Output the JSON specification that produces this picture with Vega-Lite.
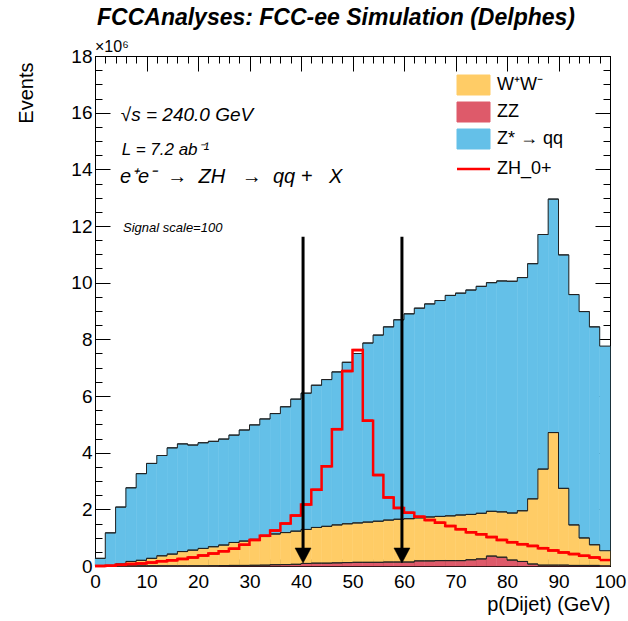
{
  "$schema": "https://vega.github.io/schema/vega-lite/v6.json",
  "width": 515,
  "height": 510,
  "autosize": {"type": "none"},
  "padding": {"left": 95, "top": 56, "right": 18, "bottom": 55},
  "background": "white",
  "config": {
    "view": {"stroke": "black", "strokeWidth": 1},
    "font": "Liberation Sans",
    "axis": {"grid": false, "domain": false, "tickColor": "black", "tickWidth": 1, "labelColor": "black", "titleColor": "black", "labelFont": "Liberation Sans", "titleFont": "Liberation Sans"}
  },
  "title": {
    "text": "FCCAnalyses: FCC-ee Simulation (Delphes)",
    "anchor": "start",
    "frame": "group",
    "dx": 2,
    "offset": -9,
    "baseline": "alphabetic",
    "font": "Liberation Sans",
    "fontSize": 23,
    "fontStyle": "italic",
    "fontWeight": "bold",
    "color": "black"
  },
  "data": {
    "values": [
      {"lo": 0, "hi": 2, "ZZ": 0.005, "WW": 0.005, "Zqq": 0.26, "sig": 0.0},
      {"lo": 2, "hi": 4, "ZZ": 0.005, "WW": 0.015, "Zqq": 1.15, "sig": 0.01},
      {"lo": 4, "hi": 6, "ZZ": 0.005, "WW": 0.065, "Zqq": 2.01, "sig": 0.04},
      {"lo": 6, "hi": 8, "ZZ": 0.005, "WW": 0.155, "Zqq": 2.60, "sig": 0.07},
      {"lo": 8, "hi": 10, "ZZ": 0.005, "WW": 0.195, "Zqq": 3.06, "sig": 0.09},
      {"lo": 10, "hi": 12, "ZZ": 0.005, "WW": 0.265, "Zqq": 3.35, "sig": 0.12},
      {"lo": 12, "hi": 14, "ZZ": 0.005, "WW": 0.355, "Zqq": 3.54, "sig": 0.17},
      {"lo": 14, "hi": 16, "ZZ": 0.005, "WW": 0.415, "Zqq": 3.75, "sig": 0.20},
      {"lo": 16, "hi": 18, "ZZ": 0.005, "WW": 0.505, "Zqq": 3.80, "sig": 0.25},
      {"lo": 18, "hi": 20, "ZZ": 0.005, "WW": 0.555, "Zqq": 3.71, "sig": 0.30},
      {"lo": 20, "hi": 22, "ZZ": 0.005, "WW": 0.615, "Zqq": 3.73, "sig": 0.37},
      {"lo": 22, "hi": 24, "ZZ": 0.008, "WW": 0.672, "Zqq": 3.72, "sig": 0.44},
      {"lo": 24, "hi": 26, "ZZ": 0.015, "WW": 0.725, "Zqq": 3.74, "sig": 0.52},
      {"lo": 26, "hi": 28, "ZZ": 0.02, "WW": 0.81, "Zqq": 3.79, "sig": 0.61},
      {"lo": 28, "hi": 30, "ZZ": 0.02, "WW": 0.86, "Zqq": 3.92, "sig": 0.75},
      {"lo": 30, "hi": 32, "ZZ": 0.025, "WW": 0.915, "Zqq": 4.04, "sig": 0.92},
      {"lo": 32, "hi": 34, "ZZ": 0.03, "WW": 1.01, "Zqq": 4.15, "sig": 1.07},
      {"lo": 34, "hi": 36, "ZZ": 0.045, "WW": 1.085, "Zqq": 4.25, "sig": 1.25},
      {"lo": 36, "hi": 38, "ZZ": 0.05, "WW": 1.13, "Zqq": 4.44, "sig": 1.50},
      {"lo": 38, "hi": 40, "ZZ": 0.06, "WW": 1.17, "Zqq": 4.66, "sig": 1.78},
      {"lo": 40, "hi": 42, "ZZ": 0.09, "WW": 1.20, "Zqq": 4.81, "sig": 2.17},
      {"lo": 42, "hi": 44, "ZZ": 0.10, "WW": 1.26, "Zqq": 5.02, "sig": 2.69},
      {"lo": 44, "hi": 46, "ZZ": 0.10, "WW": 1.30, "Zqq": 5.18, "sig": 3.52},
      {"lo": 46, "hi": 48, "ZZ": 0.11, "WW": 1.34, "Zqq": 5.40, "sig": 4.83},
      {"lo": 48, "hi": 50, "ZZ": 0.12, "WW": 1.37, "Zqq": 5.70, "sig": 6.88},
      {"lo": 50, "hi": 52, "ZZ": 0.13, "WW": 1.39, "Zqq": 5.98, "sig": 7.62},
      {"lo": 52, "hi": 54, "ZZ": 0.13, "WW": 1.42, "Zqq": 6.32, "sig": 5.13},
      {"lo": 54, "hi": 56, "ZZ": 0.13, "WW": 1.45, "Zqq": 6.57, "sig": 3.21},
      {"lo": 56, "hi": 58, "ZZ": 0.14, "WW": 1.48, "Zqq": 6.82, "sig": 2.42},
      {"lo": 58, "hi": 60, "ZZ": 0.14, "WW": 1.51, "Zqq": 7.04, "sig": 2.05},
      {"lo": 60, "hi": 62, "ZZ": 0.14, "WW": 1.53, "Zqq": 7.23, "sig": 1.88},
      {"lo": 62, "hi": 64, "ZZ": 0.18, "WW": 1.52, "Zqq": 7.40, "sig": 1.74},
      {"lo": 64, "hi": 66, "ZZ": 0.18, "WW": 1.55, "Zqq": 7.52, "sig": 1.62},
      {"lo": 66, "hi": 68, "ZZ": 0.19, "WW": 1.56, "Zqq": 7.62, "sig": 1.53},
      {"lo": 68, "hi": 70, "ZZ": 0.19, "WW": 1.58, "Zqq": 7.78, "sig": 1.41},
      {"lo": 70, "hi": 72, "ZZ": 0.19, "WW": 1.61, "Zqq": 7.83, "sig": 1.30},
      {"lo": 72, "hi": 74, "ZZ": 0.22, "WW": 1.60, "Zqq": 7.92, "sig": 1.19},
      {"lo": 74, "hi": 76, "ZZ": 0.25, "WW": 1.61, "Zqq": 8.01, "sig": 1.12},
      {"lo": 76, "hi": 78, "ZZ": 0.35, "WW": 1.58, "Zqq": 8.07, "sig": 1.02},
      {"lo": 78, "hi": 80, "ZZ": 0.31, "WW": 1.60, "Zqq": 8.15, "sig": 0.92},
      {"lo": 80, "hi": 82, "ZZ": 0.21, "WW": 1.66, "Zqq": 8.18, "sig": 0.84},
      {"lo": 82, "hi": 84, "ZZ": 0.16, "WW": 1.79, "Zqq": 8.23, "sig": 0.77},
      {"lo": 84, "hi": 86, "ZZ": 0.07, "WW": 2.30, "Zqq": 8.30, "sig": 0.71},
      {"lo": 86, "hi": 88, "ZZ": 0.03, "WW": 3.39, "Zqq": 8.28, "sig": 0.63},
      {"lo": 88, "hi": 90, "ZZ": 0.03, "WW": 4.68, "Zqq": 8.24, "sig": 0.55},
      {"lo": 90, "hi": 92, "ZZ": 0.03, "WW": 2.71, "Zqq": 8.24, "sig": 0.48},
      {"lo": 92, "hi": 94, "ZZ": 0.02, "WW": 1.43, "Zqq": 8.13, "sig": 0.42},
      {"lo": 94, "hi": 96, "ZZ": 0.02, "WW": 0.97, "Zqq": 7.99, "sig": 0.36},
      {"lo": 96, "hi": 98, "ZZ": 0.02, "WW": 0.73, "Zqq": 7.69, "sig": 0.30},
      {"lo": 98, "hi": 100, "ZZ": 0.01, "WW": 0.53, "Zqq": 7.22, "sig": 0.21}
    ]
  },
  "layer": [
    {
      "transform": [
        {"fold": ["ZZ", "WW", "Zqq"], "as": ["key", "v"]},
        {"stack": "v", "groupby": ["lo"], "as": ["y0", "y1"]}
      ],
      "mark": {"type": "rect", "strokeWidth": 0.5},
      "encoding": {
        "x": {"field": "lo", "type": "quantitative",
          "scale": {"domain": [0, 100], "nice": false, "zero": false},
          "axis": {"orient": "bottom", "values": [0,10,20,30,40,50,60,70,80,90,100], "tickSize": -15, "labelFontSize": 19, "labelPadding": 21, "labelFlush": false, "labelOverlap": false,
            "title": "p(Dijet) (GeV)", "titleFontSize": 20, "titleFontWeight": "normal", "titleAnchor": "end", "titleAlign": "right", "titleBaseline": "alphabetic", "titleX": 515, "titleY": 44}},
        "x2": {"field": "hi"},
        "y": {"field": "y1", "type": "quantitative",
          "scale": {"domain": [0, 18], "nice": false, "zero": true},
          "axis": {"orient": "left", "values": [0,2,4,6,8,10,12,14,16,18], "tickSize": -15, "labelFontSize": 19, "labelPadding": 18, "labelOverlap": false, "labelFlush": false,
            "title": "Events", "titleFontSize": 20, "titleFontWeight": "normal", "titleAngle": 270, "titleAnchor": "end", "titleAlign": "right", "titleBaseline": "alphabetic", "titleX": -63, "titleY": 6}},
        "y2": {"field": "y0"},
        "color": {"field": "key", "type": "nominal",
          "scale": {"domain": ["WW", "ZZ", "Zqq", "ZH_0+"], "range": ["#FFCC66", "#DE5A6A", "#64C0E8", "#FF0000"]},
          "legend": {
            "orient": "none", "legendX": 369.5, "legendY": 20, "title": null, "padding": 0, "offset": 0,
            "rowPadding": 3, "labelFontSize": 18, "labelFont": "Liberation Sans", "labelColor": "black", "labelOffset": 14.5,
            "symbolSize": 400, "symbolType": "M-1.65,-1L1.65,-1L1.65,1L-1.65,1Z", "symbolStrokeColor": "#333333", "symbolStrokeWidth": 1, "symbolOpacity": 1,
            "labelExpr": "datum.value === 'WW' ? 'W⁺W⁻' : datum.value === 'Zqq' ? 'Z* → qq' : datum.label",
            "encode": {"symbols": {"update": {
              "shape": {"signal": "datum.value === 'ZH_0+' ? 'M-1.65,-1M-1.65,0L1.65,0M1.65,1' : 'M-1.65,-1L1.65,-1L1.65,1L-1.65,1Z'"},
              "fill": {"signal": "datum.value === 'ZH_0+' ? 'transparent' : scale('color', datum.value)"},
              "stroke": {"signal": "datum.value === 'ZH_0+' ? '#FF0000' : '#333333'"},
              "strokeWidth": {"signal": "datum.value === 'ZH_0+' ? 2.5 : 1"}
            }}}
          }},
        "stroke": {"field": "key", "type": "nominal",
          "scale": {"domain": ["WW", "ZZ", "Zqq", "ZH_0+"], "range": ["#FFCC66", "#DE5A6A", "#64C0E8", "#FF0000"]},
          "legend": null}
      }
    },
    {
      "transform": [
        {"fold": ["ZZ", "WW", "Zqq"], "as": ["key", "v"]},
        {"stack": "v", "groupby": ["lo"], "as": ["y0", "y1"]}
      ],
      "mark": {"type": "rule", "stroke": "#222222", "strokeWidth": 1},
      "encoding": {
        "x": {"field": "lo", "type": "quantitative",
          "axis": {"orient": "bottom", "values": [0,2,4,6,8,10,12,14,16,18,20,22,24,26,28,30,32,34,36,38,40,42,44,46,48,50,52,54,56,58,60,62,64,66,68,70,72,74,76,78,80,82,84,86,88,90,92,94,96,98,100], "tickSize": -7, "labels": false, "title": null}},
        "x2": {"field": "hi"},
        "y": {"field": "y1", "type": "quantitative",
          "axis": {"orient": "left", "values": [0,0.5,1,1.5,2,2.5,3,3.5,4,4.5,5,5.5,6,6.5,7,7.5,8,8.5,9,9.5,10,10.5,11,11.5,12,12.5,13,13.5,14,14.5,15,15.5,16,16.5,17,17.5,18], "tickSize": -7, "labels": false, "title": null}}
      }
    },
    {
      "transform": [
        {"fold": ["ZZ", "WW", "Zqq"], "as": ["key", "v"]},
        {"stack": "v", "groupby": ["lo"], "as": ["y0", "y1"]}
      ],
      "mark": {"type": "line", "interpolate": "step-after", "stroke": "#222222", "strokeWidth": 1},
      "encoding": {
        "x": {"field": "lo", "type": "quantitative",
          "axis": {"orient": "top", "values": [0,10,20,30,40,50,60,70,80,90,100], "tickSize": -15, "labels": false, "title": null}},
        "y": {"field": "y1", "type": "quantitative",
          "axis": {"orient": "right", "values": [0,2,4,6,8,10,12,14,16,18], "tickSize": -15, "labels": false, "title": null}},
        "detail": {"field": "key"}
      }
    },
    {
      "mark": {"type": "rule", "stroke": "#FF0000", "strokeWidth": 2.5},
      "encoding": {
        "x": {"field": "lo", "type": "quantitative",
          "axis": {"orient": "top", "values": [0,2,4,6,8,10,12,14,16,18,20,22,24,26,28,30,32,34,36,38,40,42,44,46,48,50,52,54,56,58,60,62,64,66,68,70,72,74,76,78,80,82,84,86,88,90,92,94,96,98,100], "tickSize": -7, "labels": false, "title": null}},
        "x2": {"field": "hi"},
        "y": {"field": "sig", "type": "quantitative",
          "axis": {"orient": "right", "values": [0,0.5,1,1.5,2,2.5,3,3.5,4,4.5,5,5.5,6,6.5,7,7.5,8,8.5,9,9.5,10,10.5,11,11.5,12,12.5,13,13.5,14,14.5,15,15.5,16,16.5,17,17.5,18], "tickSize": -7, "labels": false, "title": null}}
      }
    },
    {
      "mark": {"type": "line", "interpolate": "step-after", "stroke": "#FF0000", "strokeWidth": 2.5},
      "encoding": {
        "x": {"field": "lo", "type": "quantitative", "axis": null},
        "y": {"field": "sig", "type": "quantitative", "axis": null}
      }
    },
    {
      "data": {"values": [{"cut_GeV": 40.4}, {"cut_GeV": 59.6}]},
      "mark": {"type": "rule", "stroke": "black", "strokeWidth": 3},
      "encoding": {
        "x": {"field": "cut_GeV", "type": "quantitative", "axis": null},
        "y": {"datum": 11.62, "type": "quantitative", "axis": null},
        "y2": {"datum": 0.6}
      }
    },
    {
      "data": {"values": [{"cut_GeV": 40.4}, {"cut_GeV": 59.6}]},
      "mark": {"type": "point", "shape": "M-1,-0.94L1,-0.94L0,0.94Z", "size": 256, "filled": true, "fill": "black", "stroke": "black", "strokeWidth": 0.5, "opacity": 1},
      "encoding": {
        "x": {"field": "cut_GeV", "type": "quantitative", "axis": null},
        "y": {"datum": 0.37, "type": "quantitative", "axis": null}
      }
    },
    {
      "data": {"values": [{}]},
      "mark": {"type": "text", "font": "Liberation Sans", "fontStyle": "italic", "fontSize": 19, "align": "left", "baseline": "alphabetic", "color": "black"},
      "encoding": {
        "x": {"datum": 5.0, "type": "quantitative", "axis": null},
        "y": {"datum": 15.72, "type": "quantitative", "axis": null},
        "text": {"value": "√s = 240.0 GeV"}
      }
    },
    {
      "data": {"values": [{}]},
      "mark": {"type": "text", "font": "Liberation Sans", "fontStyle": "italic", "fontSize": 17, "align": "left", "baseline": "alphabetic", "color": "black"},
      "encoding": {
        "x": {"datum": 5.2, "type": "quantitative", "axis": null},
        "y": {"datum": 14.51, "type": "quantitative", "axis": null},
        "text": {"value": "L = 7.2 ab⁻¹"}
      }
    },
    {
      "data": {"values": [{}]},
      "mark": {"type": "text", "font": "Liberation Sans", "fontStyle": "italic", "fontSize": 20, "align": "left", "baseline": "alphabetic", "color": "black"},
      "encoding": {
        "x": {"datum": 4.85, "type": "quantitative", "axis": null},
        "y": {"datum": 13.51, "type": "quantitative", "axis": null},
        "text": {"value": "e⁺e⁻\u00a0\u00a0→\u00a0\u00a0ZH\u00a0\u00a0\u00a0→\u00a0\u00a0qq\u00a0+\u00a0\u00a0\u00a0X"}
      }
    },
    {
      "data": {"values": [{}]},
      "mark": {"type": "text", "font": "Liberation Sans", "fontStyle": "italic", "fontSize": 13, "align": "left", "baseline": "alphabetic", "color": "black"},
      "encoding": {
        "x": {"datum": 5.44, "type": "quantitative", "axis": null},
        "y": {"datum": 11.78, "type": "quantitative", "axis": null},
        "text": {"value": "Signal scale=100"}
      }
    },
    {
      "data": {"values": [{}]},
      "mark": {"type": "text", "font": "Liberation Sans", "fontSize": 16, "align": "left", "baseline": "alphabetic", "color": "black"},
      "encoding": {
        "x": {"datum": 0, "type": "quantitative", "axis": null},
        "y": {"datum": 18.15, "type": "quantitative", "axis": null},
        "text": {"value": "×10⁶"}
      }
    }
  ],
  "resolve": {"axis": {"x": "independent", "y": "independent"}}
}
